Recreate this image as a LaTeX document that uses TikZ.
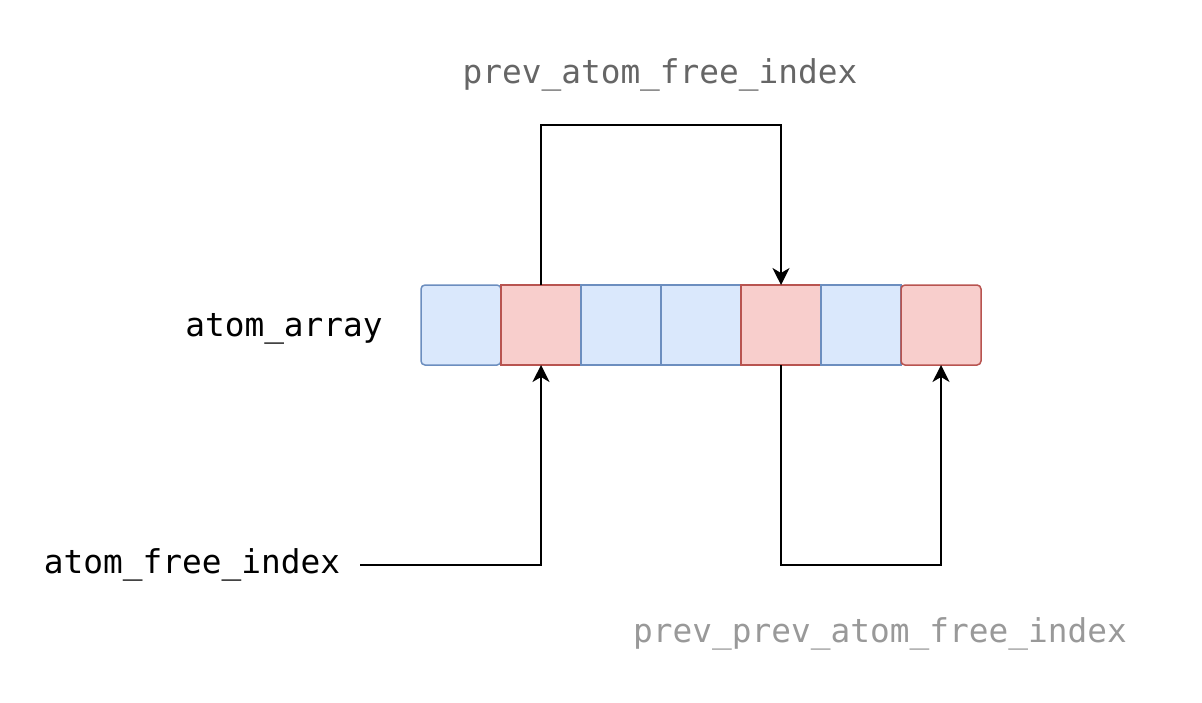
\documentclass[tikz,border=0pt]{standalone}
\usepackage{fontspec}
\setmonofont{DejaVu Sans Mono}
\usetikzlibrary{arrows.meta,positioning}
\definecolor{usedfill}{HTML}{DAE8FC}
\definecolor{usedline}{HTML}{6C8EBF}
\definecolor{freefill}{HTML}{F8CECC}
\definecolor{freeline}{HTML}{B85450}
\definecolor{midgray}{HTML}{666666}
\definecolor{softgray}{HTML}{999999}

\begin{document}
\begin{tikzpicture}[x=0.5pt, y=-0.5pt, node distance=0pt, >={Stealth[length=8.5pt, width=8.5pt, inset=2.5pt]}, font=\ttfamily\fontsize{16.4}{19}\selectfont]
\tikzstyle{cell}=[rectangle, line width=0.75pt, minimum size=40pt, inner sep=0pt, outer sep=0pt]
\tikzstyle{used}=[cell, draw=usedline, fill=usedfill]
\tikzstyle{free}=[cell, draw=freeline, fill=freefill]
\tikzstyle{link}=[->, line width=0.75pt]
\useasboundingbox (0,0) rectangle (1202,702);
% the array of atoms
\node[used, rounded corners=2pt] (c1) at (461,325) {};
\node[free, right=of c1] (c2) {};
\node[used, right=of c2] (c3) {};
\node[used, right=of c3] (c4) {};
\node[free, right=of c4] (c5) {};
\node[used, right=of c5] (c6) {};
\node[free, rounded corners=2pt, right=of c6] (c7) {};
% labels
\node (arr) at (284,329) {atom\_array};
\node[text=midgray] (prev) at (660,75) {prev\_atom\_free\_index};
\node (afi) at (192,565) {atom\_free\_index};
\node[text=softgray] (pprev) at (880,634) {prev\_prev\_atom\_free\_index};
% free list links
\draw[link] ([xshift=6.5pt]afi.east) -| (c2.south);
\draw[link] (c2.north) -- ++(0,-160) -| (c5.north);
\draw[link] (c5.south) -- ++(0,200) -| (c7.south);
\end{tikzpicture}
\end{document}
